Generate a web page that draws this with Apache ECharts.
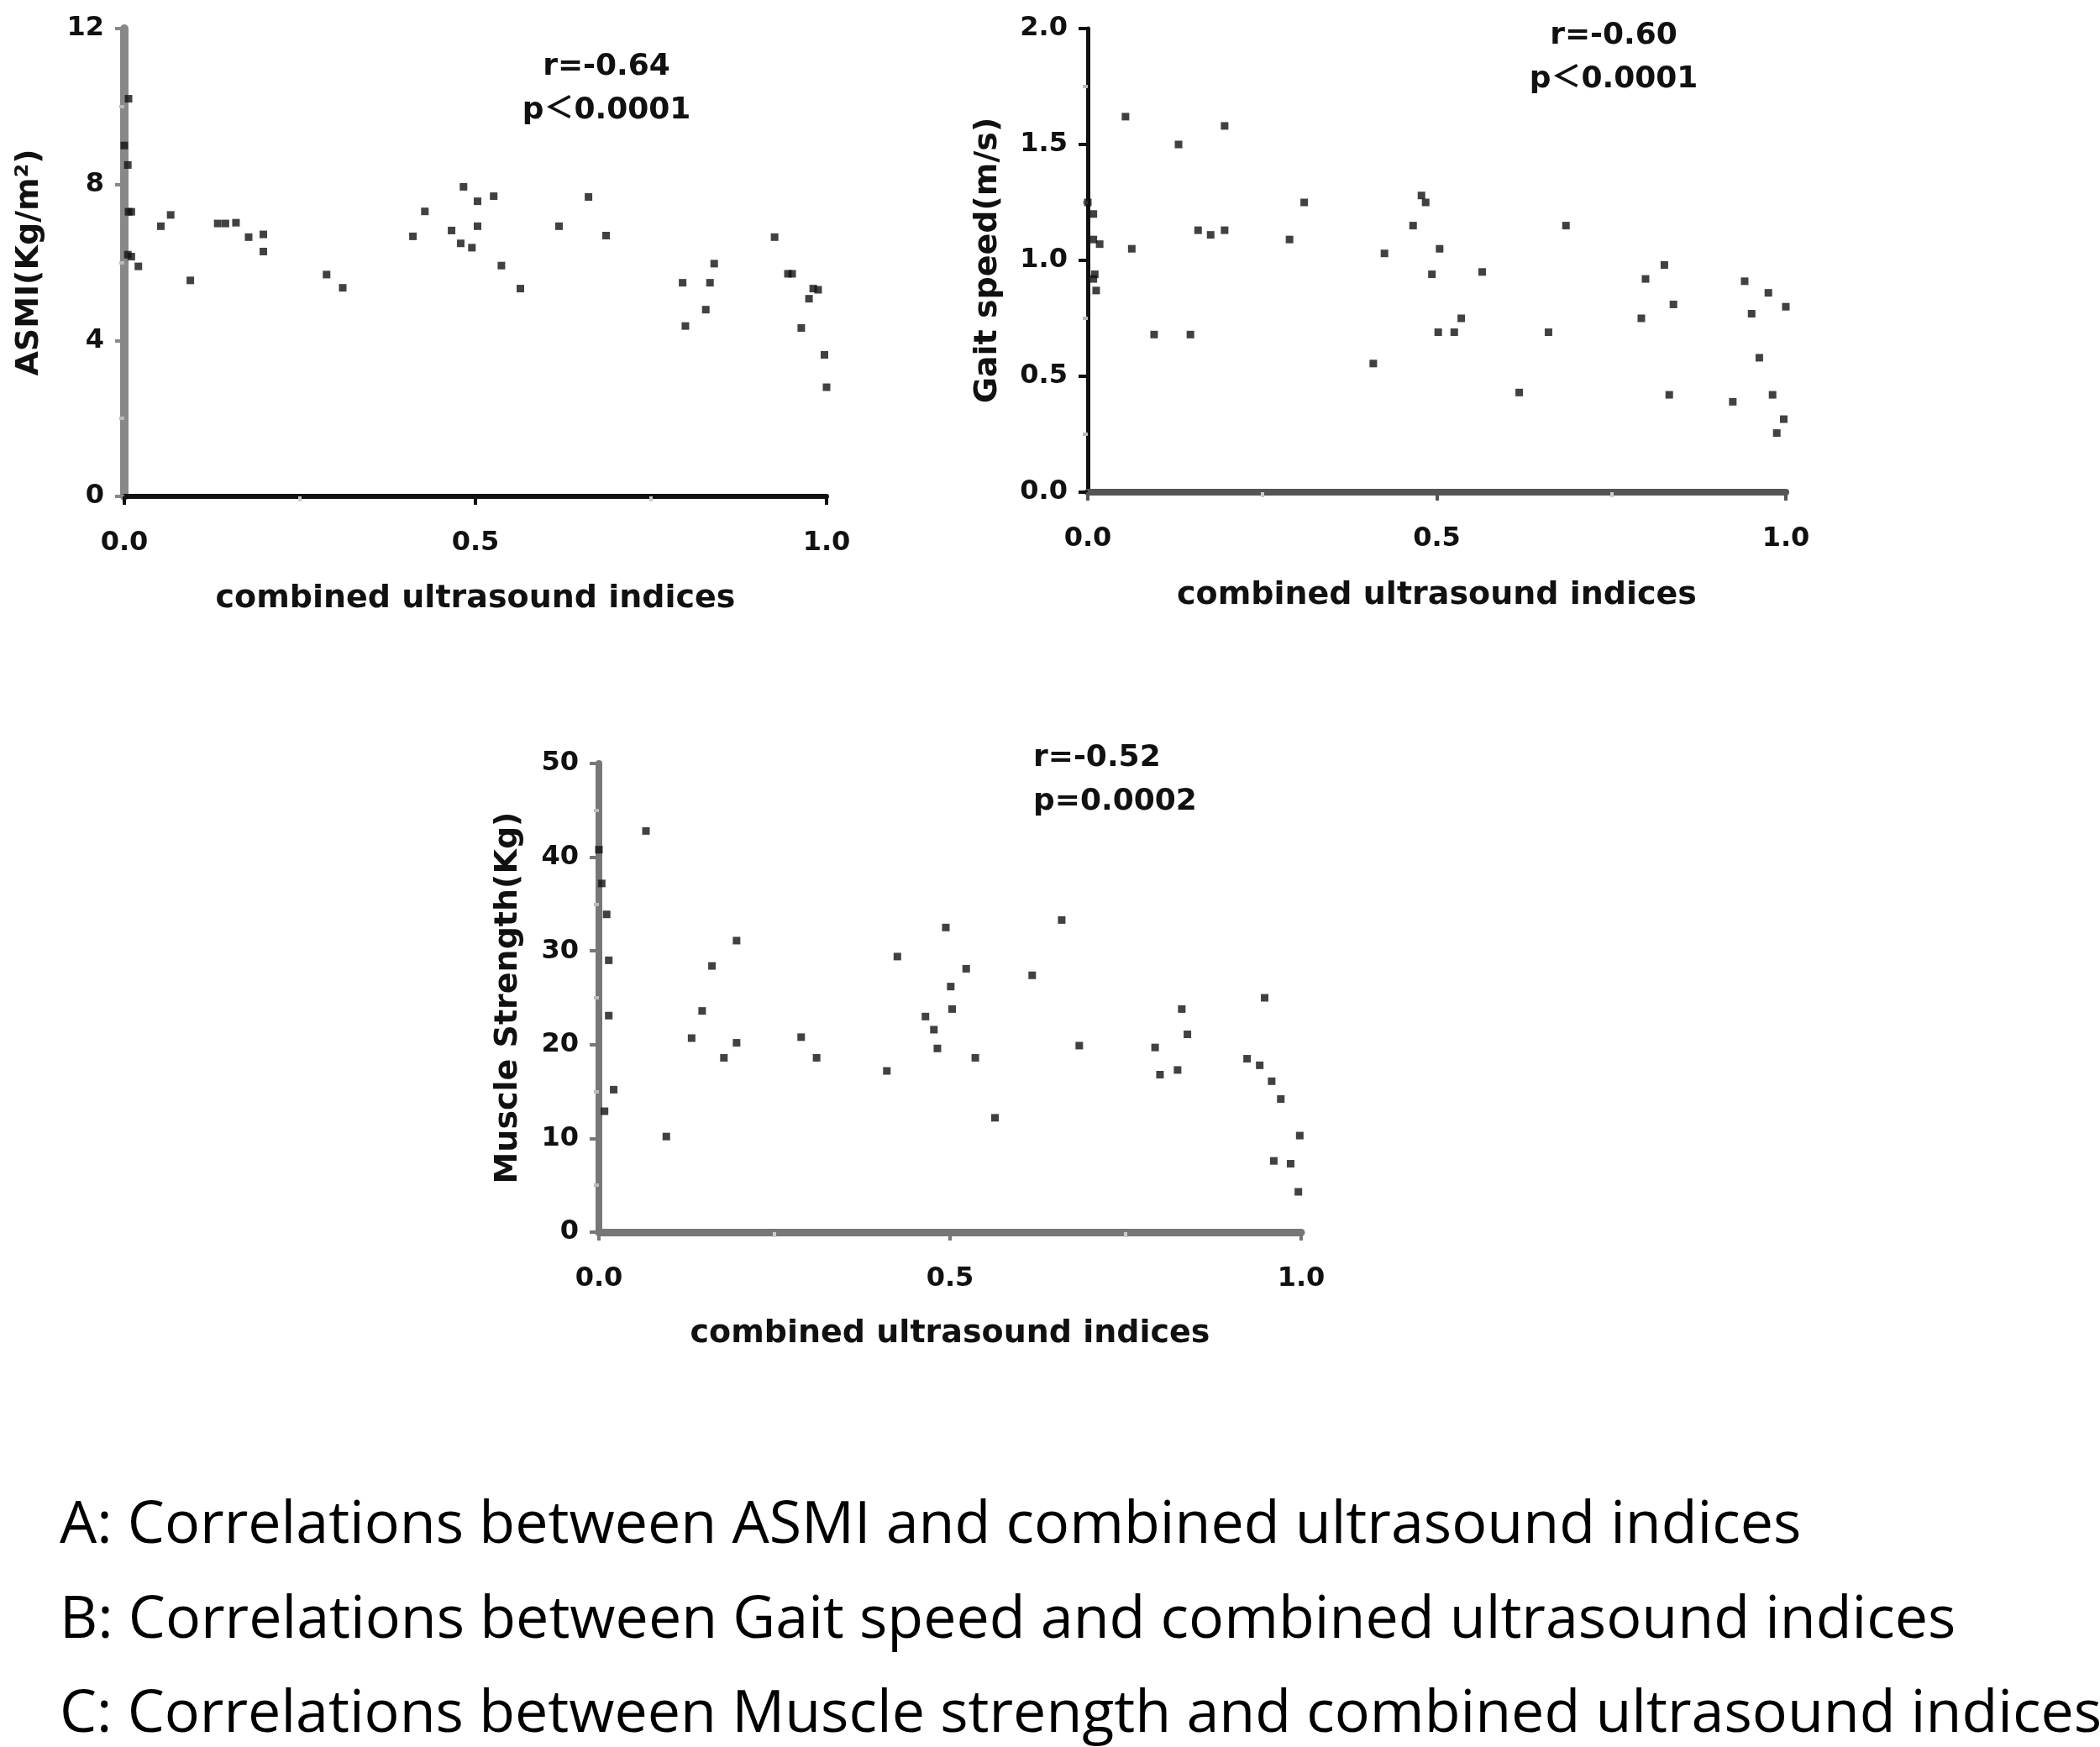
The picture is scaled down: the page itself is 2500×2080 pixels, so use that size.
<!doctype html>
<html>
<head>
	<meta charset="utf-8">
	<title></title>
	<script type="text/javascript" src="https://cdn.jsdelivr.net/npm/echarts@6/dist/echarts.min.js"></script>
	<style>
		html, body { margin: 0; padding: 0; background: #fff; }
	</style>
</head>
<body>
	<div id="main" style="width: 2500px;height:2080px;"></div>
	<script type="text/javascript">
		// ASMI vs combined ultrasound indices
		var asmiPoints = [
			[0.006, 10.2], [0.0, 9.0], [0.005, 8.5], [0.01, 7.3], [0.006, 7.3], [0.01, 6.15], [0.005, 6.2],
			[0.02, 5.9], [0.052, 6.93], [0.066, 7.22], [0.094, 5.54], [0.133, 7.0], [0.144, 7.0], [0.159, 7.02],
			[0.177, 6.65], [0.198, 6.72], [0.198, 6.28], [0.288, 5.69], [0.311, 5.35], [0.411, 6.67], [0.428, 7.31],
			[0.466, 6.82], [0.483, 7.94], [0.479, 6.49], [0.495, 6.38], [0.503, 7.57], [0.503, 6.93], [0.526, 7.70],
			[0.537, 5.92], [0.564, 5.33], [0.619, 6.93], [0.661, 7.68], [0.686, 6.69], [0.795, 5.48], [0.799, 4.37],
			[0.828, 4.79], [0.834, 5.48], [0.840, 5.97], [0.926, 6.65], [0.945, 5.71], [0.951, 5.71], [0.964, 4.32],
			[0.975, 5.07], [0.981, 5.33], [0.988, 5.3], [0.997, 3.63], [1.0, 2.8]
		];
		// Gait speed vs combined ultrasound indices
		var gaitPoints = [
			[0.054, 1.62], [0.130, 1.50], [0.196, 1.58], [0.0, 1.25], [0.008, 1.20], [0.008, 1.09], [0.017, 1.07],
			[0.01, 0.94], [0.008, 0.92], [0.012, 0.87], [0.063, 1.05], [0.158, 1.13], [0.176, 1.11], [0.196, 1.13],
			[0.095, 0.68], [0.147, 0.68], [0.289, 1.09], [0.310, 1.25], [0.409, 0.555], [0.425, 1.03], [0.466, 1.15],
			[0.478, 1.28], [0.484, 1.25], [0.493, 0.94], [0.504, 1.05], [0.502, 0.69], [0.525, 0.69], [0.535, 0.75],
			[0.565, 0.95], [0.618, 0.43], [0.660, 0.69], [0.685, 1.15], [0.793, 0.75], [0.799, 0.92], [0.826, 0.98],
			[0.833, 0.42], [0.839, 0.81], [0.924, 0.39], [0.941, 0.91], [0.951, 0.77], [0.962, 0.58], [0.975, 0.86],
			[0.981, 0.42], [0.987, 0.255], [0.997, 0.315], [1.0, 0.80]
		];
		// Muscle strength vs combined ultrasound indices
		var strengthPoints = [
			[0.067, 42.8], [0.0, 40.8], [0.004, 37.2], [0.011, 33.9], [0.014, 29.0], [0.014, 23.1], [0.008, 12.9],
			[0.021, 15.2], [0.096, 10.2], [0.132, 20.7], [0.147, 23.6], [0.161, 28.4], [0.178, 18.6], [0.196, 31.1],
			[0.196, 20.2], [0.288, 20.8], [0.310, 18.6], [0.410, 17.2], [0.425, 29.4], [0.465, 23.0], [0.477, 21.6],
			[0.482, 19.6], [0.494, 32.5], [0.501, 26.2], [0.503, 23.8], [0.523, 28.1], [0.536, 18.6], [0.564, 12.2],
			[0.617, 27.4], [0.659, 33.3], [0.684, 19.9], [0.792, 19.7], [0.799, 16.8], [0.824, 17.3], [0.830, 23.8],
			[0.838, 21.1], [0.923, 18.5], [0.941, 17.8], [0.948, 25.0], [0.958, 16.1], [0.971, 14.2], [0.961, 7.6],
			[0.985, 7.3], [0.996, 4.3], [0.998, 10.3]
		];

		var xTicks = ['0.0', '0.5', '1.0'];
		var xName = 'combined ultrasound indices';
		var yNames = ['ASMI(Kg/m²)', 'Gait speed(m/s)', 'Muscle Strength(Kg)'];
		var statTexts = ['r=-0.64\np＜0.0001', 'r=-0.60\np＜0.0001', 'r=-0.52\np=0.0002'];
		var captions = [
			'A: Correlations between ASMI and combined ultrasound indices',
			'B: Correlations between Gait speed and combined ultrasound indices',
			'C: Correlations between Muscle strength and combined ultrasound indices'
		];

		var font = '"DejaVu Sans", "Noto Sans CJK SC", sans-serif';
		var statStyle = { fontFamily: font, fontWeight: 'bold', fontSize: 36, lineHeight: 52, color: '#111' };
		var capStyle = { fontFamily: '"Open Sans", sans-serif', fontWeight: 'normal', fontSize: 70, color: '#000' };

		function xAxisOf(gi, lineColor, lineWidth, gap) {
			return {
				gridIndex: gi, type: 'value', min: 0, max: 1, interval: 0.5,
				name: xName, nameLocation: 'middle', nameGap: gap,
				nameTextStyle: { fontFamily: font, fontWeight: 'bold', fontSize: 38, color: '#111' },
				axisLine: { lineStyle: { color: lineColor, width: lineWidth } },
				axisTick: { length: 10, lineStyle: { color: lineColor, width: 4 } },
				minorTick: { show: true, splitNumber: 2, length: 6, lineStyle: { color: '#ccc', width: 4 } },
				splitLine: { show: false },
				axisLabel: {
					margin: 40, fontFamily: font, fontWeight: 'bold', fontSize: 32, color: '#111',
					formatter: function (v) { return xTicks[Math.round(v * 2)]; }
				}
			};
		}
		function yAxisOf(gi, max, interval, name, gap, lineColor, lineWidth) {
			return {
				gridIndex: gi, type: 'value', min: 0, max: max, interval: interval,
				name: name, nameLocation: 'middle', nameGap: gap, nameRotate: 90,
				nameTextStyle: { fontFamily: font, fontWeight: 'bold', fontSize: 38, color: '#111' },
				axisLine: { show: true, lineStyle: { color: lineColor, width: lineWidth } },
				axisTick: { show: true, length: 11, lineStyle: { color: lineColor, width: 4 } },
				minorTick: { show: true, splitNumber: 2, length: 6, lineStyle: { color: '#bbb', width: 4 } },
				splitLine: { show: false },
				axisLabel: {
					margin: 24, fontFamily: font, fontWeight: 'bold', fontSize: 32, color: '#111',
					formatter: function (v) { return interval < 1 ? v.toFixed(1) : String(v); }
				}
			};
		}
		function scatterOf(i, data) {
			return {
				type: 'scatter', xAxisIndex: i, yAxisIndex: i, data: data,
				symbol: 'rect', symbolSize: 9, itemStyle: { color: '#111' }
			};
		}

		var myChart = echarts.init(document.getElementById('main'));
		var option = {
			backgroundColor: '#fff',
			animation: false,
			title: [
				{ text: statTexts[0], left: 717, top: 49, textAlign: 'center', textStyle: statStyle },
				{ text: statTexts[1], left: 1916, top: 12, textAlign: 'center', textStyle: statStyle },
				{ text: statTexts[2], left: 1225, top: 872, textStyle: statStyle },
				{ text: captions[0], left: 66, top: 1777, textStyle: capStyle },
				{ text: captions[1], left: 66, top: 1890, textStyle: capStyle },
				{ text: captions[2], left: 66, top: 2002, textStyle: capStyle }
			],
			grid: [
				{ left: 148, top: 34, width: 836, height: 557 },
				{ left: 1295, top: 34, width: 831, height: 552 },
				{ left: 713, top: 909, width: 836, height: 558 }
			],
			xAxis: [
				xAxisOf(0, '#111', 6, 103),
				xAxisOf(1, '#555', 8, 104),
				xAxisOf(2, '#777', 9, 102)
			],
			yAxis: [
				yAxisOf(0, 12, 4, yNames[0], 94, '#888', 10),
				yAxisOf(1, 2, 0.5, yNames[1], 100, '#111', 5),
				yAxisOf(2, 50, 10, yNames[2], 89, '#777', 8)
			],
			series: [
				scatterOf(0, asmiPoints),
				scatterOf(1, gaitPoints),
				scatterOf(2, strengthPoints)
			]
		};
		myChart.setOption(option);
	</script>
</body>
</html>
